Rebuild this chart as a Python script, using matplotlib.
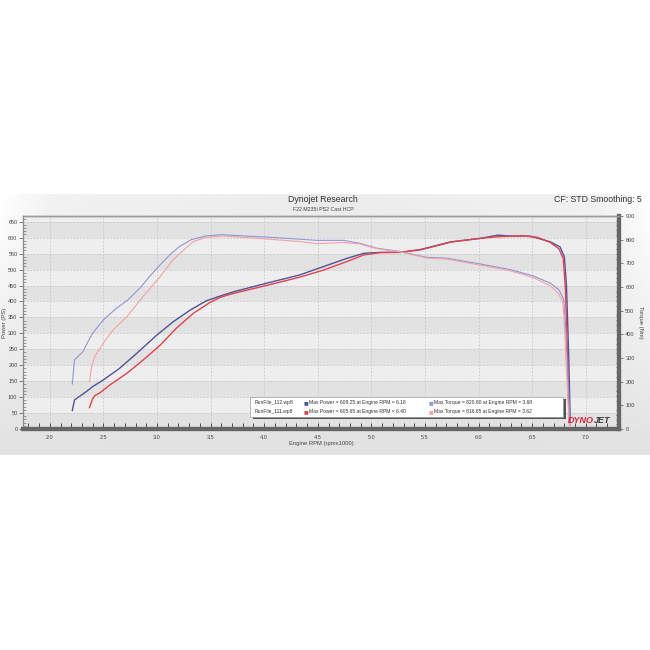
import numpy as np
import matplotlib.pyplot as plt
from matplotlib.patches import Rectangle
from matplotlib.ticker import MultipleLocator

plt.rcParams['font.family'] = ['Liberation Sans', 'DejaVu Sans']

# RunFile_112 power (PS)
rpm_p112 = [2.21, 2.23, 2.28, 2.34, 2.40, 2.50, 2.65, 2.81, 3.00, 3.15, 3.31, 3.46, 3.59,
            3.71, 4.02, 4.33, 4.55, 4.77, 4.93, 5.08, 5.27, 5.46, 5.74, 6.02, 6.18, 6.30,
            6.48, 6.67, 6.76, 6.80, 6.82, 6.84, 6.855]
pow_112 = [58, 91, 103, 117, 133, 154, 190, 237, 295, 336, 373, 402, 417,
           430, 457, 483, 509, 535, 551, 554, 554, 563, 587, 598, 608, 605,
           605, 587, 571, 540, 450, 240, 25]

# RunFile_111 power (PS)
rpm_p111 = [2.37, 2.40, 2.42, 2.47, 2.56, 2.72, 2.87, 3.03, 3.18, 3.34, 3.49, 3.59, 3.71,
            4.02, 4.33, 4.55, 4.77, 4.93, 5.08, 5.27, 5.46, 5.74, 6.02, 6.18, 6.40, 6.55,
            6.67, 6.75, 6.79, 6.81, 6.83, 6.845]
pow_111 = [67, 95, 105, 114, 138, 175, 216, 263, 316, 363, 396, 413, 425,
           450, 476, 498, 525, 546, 553, 554, 562, 586, 598, 603, 606, 601,
           585, 565, 535, 440, 230, 25]

# RunFile_112 torque (Nm)
rpm_t112 = [2.21, 2.23, 2.31, 2.34, 2.40, 2.50, 2.61, 2.73, 2.84, 2.93, 3.03, 3.12, 3.21,
            3.32, 3.46, 3.60, 3.80, 4.02, 4.33, 4.49, 4.74, 4.89, 5.05, 5.27, 5.52, 5.70,
            6.02, 6.30, 6.51, 6.67, 6.75, 6.795, 6.81, 6.83, 6.855]
trq_112 = [190, 292, 327, 355, 405, 461, 506, 546, 595, 644, 694, 736, 771,
           800, 816, 821, 816, 811, 802, 797, 797, 785, 764, 750, 725, 722,
           697, 673, 647, 616, 588, 546, 450, 250, 15]

# RunFile_111 torque (Nm)
rpm_t111 = [2.37, 2.39, 2.42, 2.50, 2.59, 2.72, 2.87, 3.03, 3.15, 3.25, 3.34, 3.46, 3.62,
            3.80, 4.02, 4.33, 4.49, 4.74, 4.89, 5.05, 5.27, 5.52, 5.70, 6.02, 6.30, 6.51,
            6.67, 6.74, 6.785, 6.80, 6.82, 6.845]
trq_111 = [200, 264, 306, 363, 419, 475, 560, 644, 715, 757, 792, 810, 816,
           810, 803, 792, 783, 788, 782, 762, 748, 722, 718, 692, 668, 640,
           605, 575, 540, 450, 250, 15]

run_names = ['RunFile_112.wp8', 'RunFile_111.wp8']
max_power = ['Max Power = 608.25 at Engine RPM = 6.18', 'Max Power = 605.65 at Engine RPM = 6.40']
max_torque = ['Max Torque = 820.80 at Engine RPM = 3.68', 'Max Torque = 816.65 at Engine RPM = 3.62']

c_p112 = '#4f5398'
c_t112 = '#9294d4'
c_p111 = '#e4424c'
c_t111 = '#f3a2a6'

fig = plt.figure(figsize=(6.5, 6.5), dpi=100)
fig.patch.set_facecolor('white')

# gray panel behind the chart
bg = fig.add_axes([0, 1 - 455 / 650, 1, 261 / 650])
yy, xx = np.mgrid[0:1:100j, 0:1:200j]
shade = 0.95 - 0.065 * yy - 0.025 * (1 - np.abs(xx - 0.5) * 2) * (1 - yy)
shade += 0.05 * np.clip(1 - xx / 0.08, 0, 1) * (1 - yy) + 0.05 * np.clip((xx - 0.92) / 0.08, 0, 1) * (1 - yy)
bg.imshow(shade, cmap='gray', vmin=0, vmax=1, aspect='auto', extent=[0, 1, 0, 1])
bg.axis('off')

ax = fig.add_axes([23 / 650, 1 - 429 / 650, 596 / 650, 213 / 650])
ax.set_xlim(1.75, 7.31)
ax.set_ylim(0, 668)
ax.set_facecolor('#eeeeee')
for lo in range(0, 650, 100):
    ax.axhspan(lo, lo + 50, color='#e2e2e2', lw=0, zorder=0)
for x in np.arange(2.0, 7.01, 0.5):
    ax.axvline(x, color='#c6c6c6', lw=0.6, ls=(0, (2, 2)), zorder=1)
for y in range(50, 651, 50):
    ax.axhline(y, color='#c6c6c6', lw=0.6, ls=(0, (2, 2)), zorder=1)

ax.plot(rpm_p112, pow_112, color=c_p112, lw=1.0, zorder=4)
ax.plot(rpm_p111, pow_111, color=c_p111, lw=1.0, zorder=4)

ax2 = ax.twinx()
ax2.set_ylim(0, 900)
ax2.plot(rpm_t112, trq_112, color=c_t112, lw=0.8, zorder=3)
ax2.plot(rpm_t111, trq_111, color=c_t111, lw=0.8, zorder=3)

# axes styling
ax.xaxis.set_minor_locator(MultipleLocator(0.1))
ax.set_xticks(np.arange(2.0, 7.01, 0.5))
ax.set_xticklabels(['%.1f' % v for v in np.arange(2.0, 7.01, 0.5)])
ax.tick_params(axis='x', which='both', direction='in', length=4, width=0.6, color='#333333',
               labelsize=4, labelcolor='#444444', pad=4)
ax.set_yticks(range(0, 651, 50))
ax.yaxis.set_minor_locator(MultipleLocator(10))
ax.tick_params(axis='y', which='major', direction='out', length=3, width=0.5, color='#555555',
               labelsize=4, labelcolor='#444444', pad=1)
ax.tick_params(axis='y', which='minor', direction='in', length=2, width=0.4, color='#555555')
ax2.set_yticks(range(0, 901, 100))
ax2.yaxis.set_minor_locator(MultipleLocator(20))
ax2.tick_params(axis='y', which='major', direction='out', length=3, width=0.5, color='#555555',
                labelsize=4, labelcolor='#444444', pad=1.5)
ax2.tick_params(axis='y', which='minor', direction='in', length=2.5, width=0.5, color='#444444')

for a in (ax, ax2):
    a.spines['left'].set_color('#8a8a8a')
    a.spines['left'].set_linewidth(0.8)
    a.spines['top'].set_color('#9a9a9a')
    a.spines['top'].set_linewidth(1.0)
    a.spines['bottom'].set_color('#666666')
    a.spines['bottom'].set_linewidth(3.0)
    a.spines['right'].set_color('#666666')
    a.spines['right'].set_linewidth(3.0)

ax.set_xlabel('Engine RPM (rpmx1000)', fontsize=4.2, color='#444444', labelpad=1)
ax.set_ylabel('Power (PS)', fontsize=4.2, color='#444444', labelpad=1)
ax2.set_ylabel('Torque (Nm)', fontsize=4.2, color='#444444', rotation=270, labelpad=6)

# legend box
ax2.add_patch(Rectangle((0.386, 0.045), 0.525, 0.095, transform=ax2.transAxes,
                        facecolor='#555555', edgecolor='none', zorder=6))
ax2.add_patch(Rectangle((0.381, 0.056), 0.525, 0.095, transform=ax2.transAxes,
                        facecolor='white', edgecolor='#888888', lw=0.4, zorder=7))
sq_cols = [(c_p112, c_t112), (c_p111, c_t111)]
for i in range(2):
    yf = 0.125 - i * 0.043
    ax2.text(0.388, yf, run_names[i], transform=ax2.transAxes, fontsize=3.6,
             color='#333333', va='center', zorder=8)
    ax2.text(0.470, yf, '\u25A0', transform=ax2.transAxes, fontsize=3.6,
             color=sq_cols[i][0], va='center', family='DejaVu Sans', zorder=8)
    ax2.text(0.480, yf, max_power[i], transform=ax2.transAxes, fontsize=3.6,
             color='#333333', va='center', zorder=8)
    ax2.text(0.680, yf, '\u25A0', transform=ax2.transAxes, fontsize=3.6,
             color=sq_cols[i][1], va='center', family='DejaVu Sans', zorder=8)
    ax2.text(0.690, yf, max_torque[i], transform=ax2.transAxes, fontsize=3.6,
             color='#333333', va='center', zorder=8)

# logo
ax2.text(0.958, 0.018, 'DYNO', transform=ax2.transAxes, fontsize=6.5, color='#e0203a',
         fontweight='bold', style='italic', ha='right', va='bottom', zorder=8)
ax2.text(0.958, 0.018, 'JET', transform=ax2.transAxes, fontsize=6.5, color='#3a3a3a',
         fontweight='bold', style='italic', ha='left', va='bottom', zorder=8)

# titles
fig.text(323 / 650, 1 - 200 / 650, 'Dynojet Research', fontsize=6.3, color='#333333',
         ha='center', va='center')
fig.text(323 / 650, 1 - 209.5 / 650, 'F22 M235i PS2 Cast HCP', fontsize=3.8, color='#444444',
         ha='center', va='center')
fig.text(642 / 650, 1 - 200 / 650, 'CF: STD Smoothing: 5', fontsize=6.3, color='#333333',
         ha='right', va='center')

fig.savefig('out.png', dpi=100)
